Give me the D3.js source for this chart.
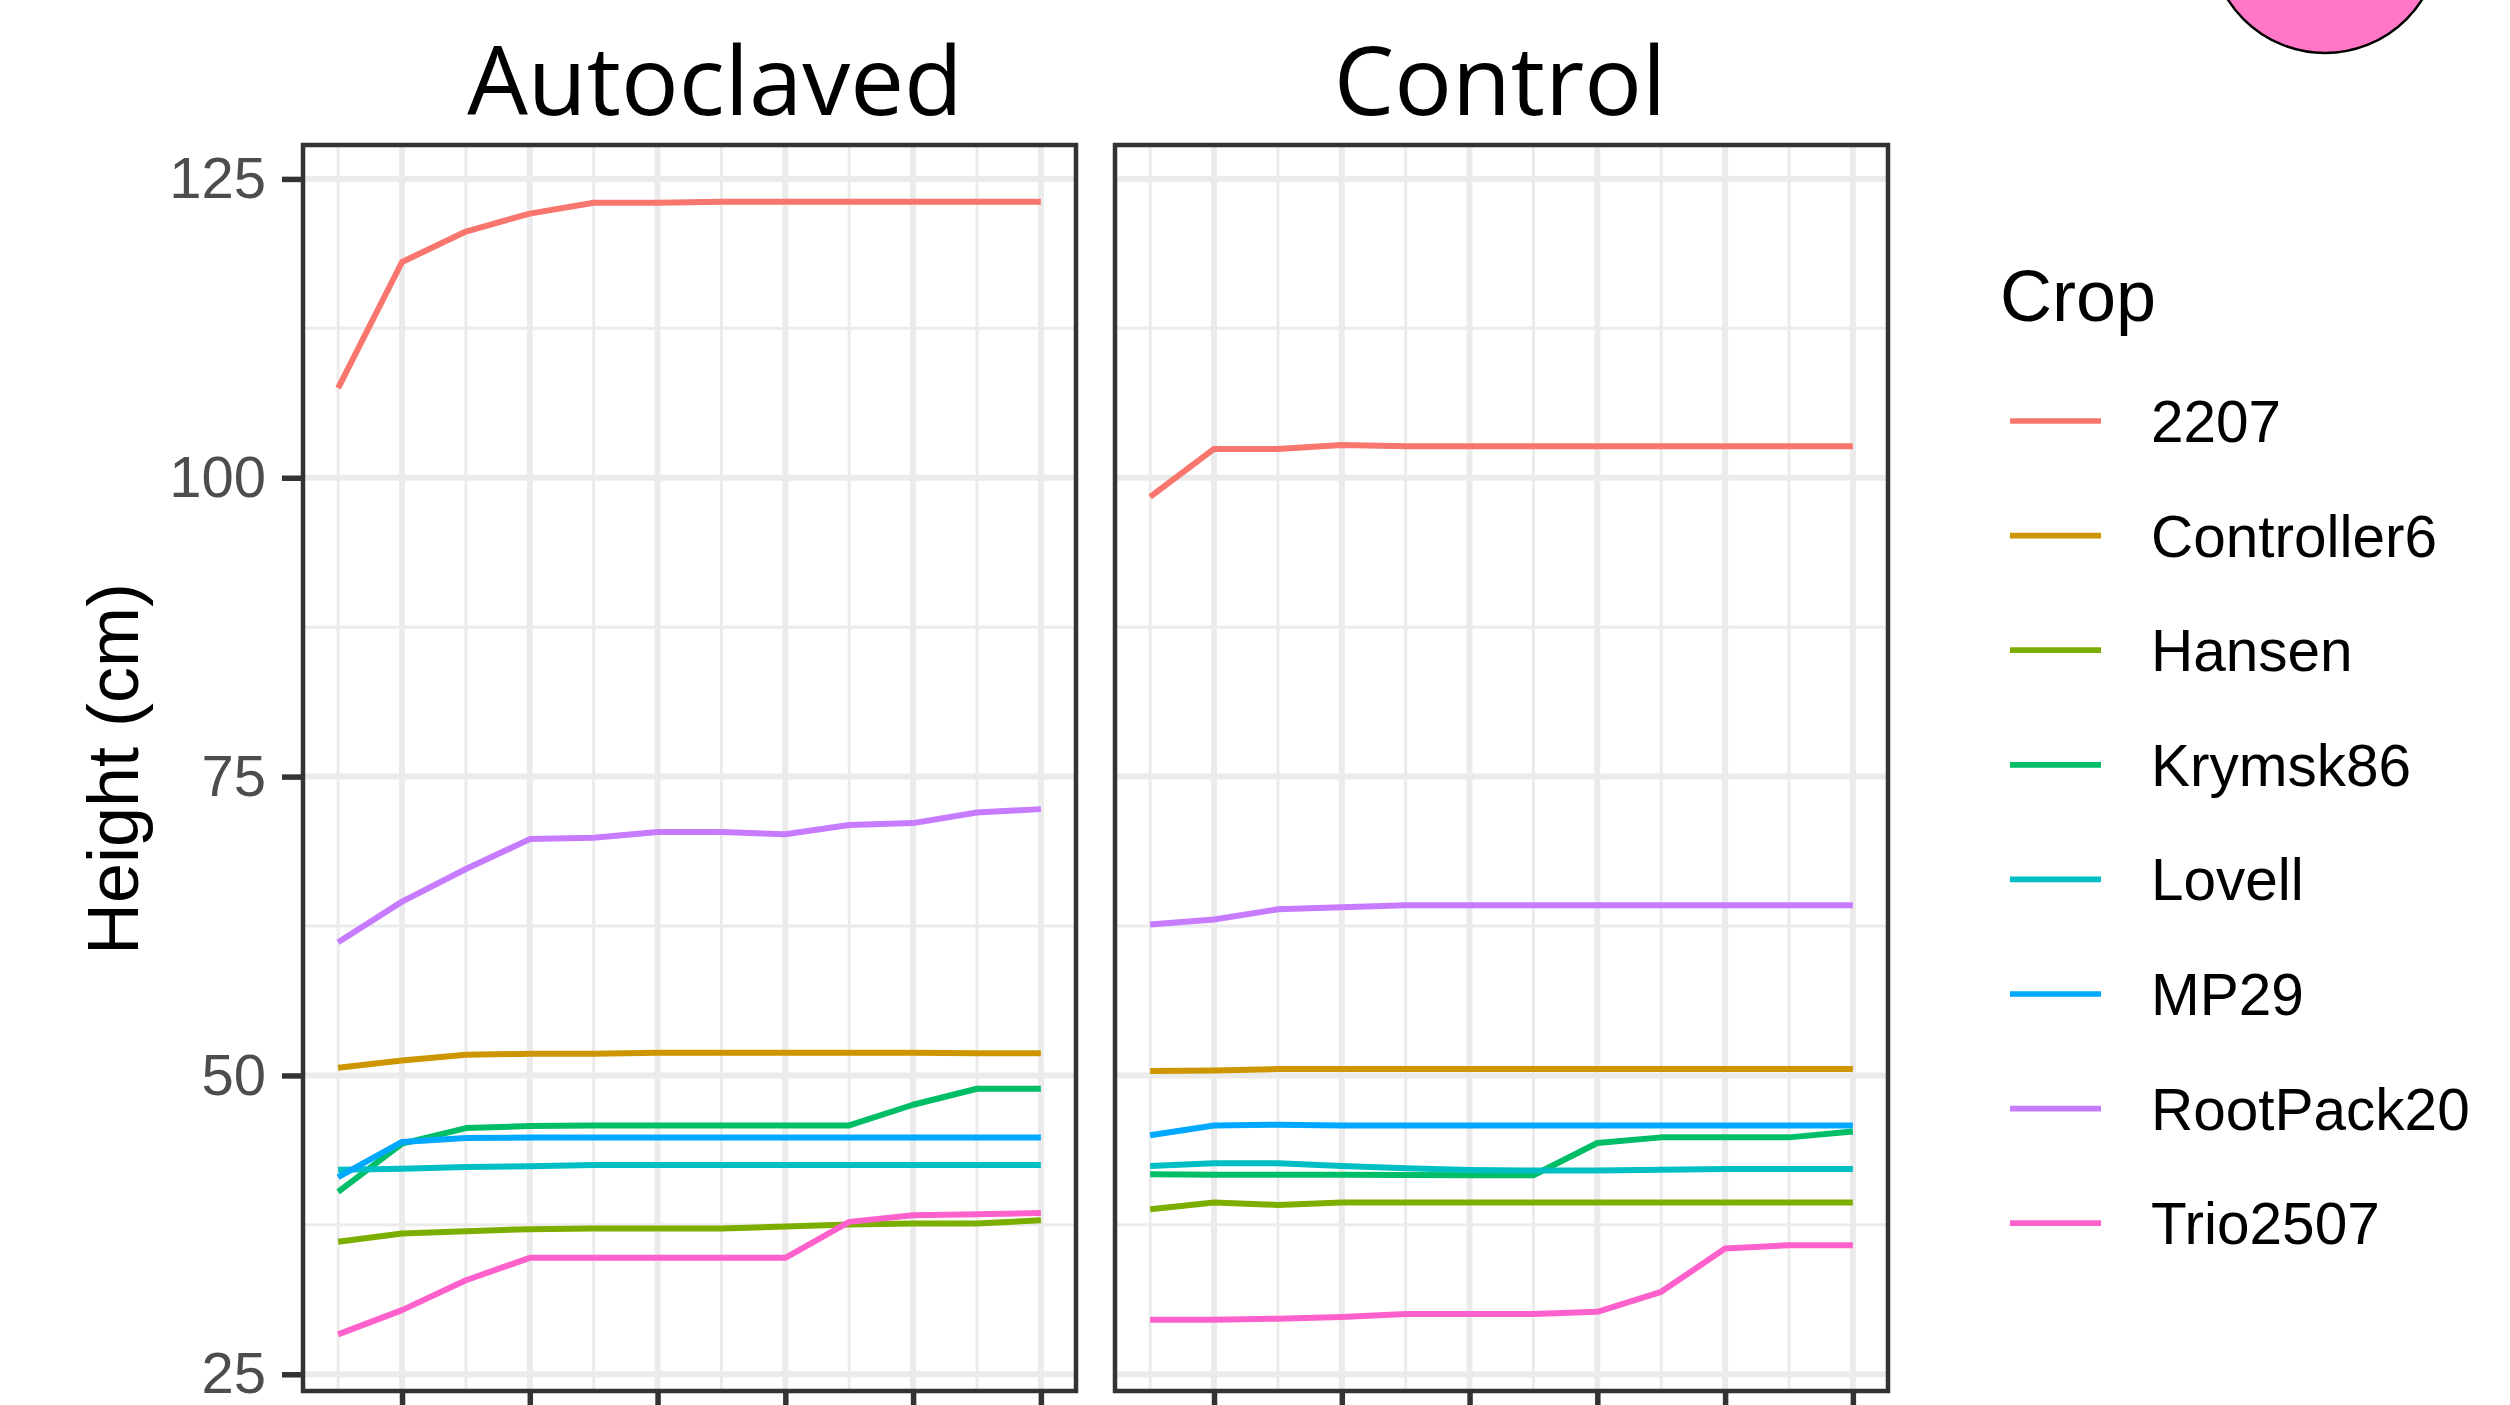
<!DOCTYPE html>
<html>
<head>
<meta charset="utf-8">
<script src="https://cdn.jsdelivr.net/npm/d3@7"></script>
<style>
  html, body { margin: 0; padding: 0; background: #ffffff; }
  svg { display: block; }
</style>
</head>
<body>
<svg id="chart" width="2510" height="1405"></svg>
<script>
// ---------------- DATA ----------------
const weeks = [1, 2, 3, 4, 5, 6, 7, 8, 9, 10, 11, 12];
const xMajorBreaks = [2, 4, 6, 8, 10, 12];
const xMinorBreaks = [1, 3, 5, 7, 9, 11];
const yMajorBreaks = [25, 50, 75, 100, 125];
const yMinorBreaks = [37.5, 62.5, 87.5, 112.5];
const yTickLabels = ["25", "50", "75", "100", "125"];

const panels = ["Autoclaved", "Control"];
const crops = ["2207", "Controller6", "Hansen", "Krymsk86", "Lovell", "MP29", "RootPack20", "Trio2507"];
const cropColors = ["#F8766D", "#CD9600", "#7CAE00", "#00BE67", "#00BFC4", "#00A9FF", "#C77CFF", "#FF61CC"];

// Autoclaved panel
const auto_2207        = [107.5, 118.05, 120.6, 122.1, 123.0, 123.0, 123.1, 123.1, 123.1, 123.1, 123.1, 123.1];
const auto_Controller6 = [50.64, 51.25, 51.73, 51.81, 51.81, 51.9, 51.9, 51.9, 51.9, 51.9, 51.85, 51.85];
const auto_Hansen      = [36.08, 36.78, 36.97, 37.14, 37.19, 37.19, 37.19, 37.36, 37.53, 37.61, 37.61, 37.89];
const auto_Krymsk86    = [40.26, 44.29, 45.6, 45.77, 45.82, 45.82, 45.82, 45.82, 45.82, 47.55, 48.89, 48.89];
const auto_Lovell      = [42.12, 42.2, 42.35, 42.4, 42.51, 42.51, 42.51, 42.51, 42.51, 42.51, 42.51, 42.51];
const auto_MP29        = [41.5, 44.44, 44.77, 44.8, 44.8, 44.8, 44.8, 44.8, 44.8, 44.8, 44.8, 44.8];
const auto_RootPack20  = [61.14, 64.54, 67.27, 69.77, 69.88, 70.36, 70.36, 70.17, 70.95, 71.11, 72.0, 72.28];
const auto_Trio2507    = [28.34, 30.37, 32.87, 34.74, 34.74, 34.74, 34.74, 34.74, 37.75, 38.3, 38.39, 38.5];

// Control panel
const ctrl_2207        = [98.4, 102.41, 102.41, 102.75, 102.64, 102.64, 102.64, 102.64, 102.64, 102.64, 102.64, 102.64];
const ctrl_Controller6 = [50.37, 50.42, 50.53, 50.53, 50.53, 50.53, 50.53, 50.53, 50.53, 50.53, 50.53, 50.53];
const ctrl_Hansen      = [38.81, 39.37, 39.17, 39.37, 39.37, 39.37, 39.37, 39.37, 39.37, 39.37, 39.37, 39.37];
const ctrl_Krymsk86    = [41.73, 41.7, 41.7, 41.7, 41.68, 41.65, 41.65, 44.35, 44.82, 44.82, 44.82, 45.32];
const ctrl_Lovell      = [42.43, 42.65, 42.65, 42.43, 42.23, 42.1, 42.04, 42.04, 42.12, 42.18, 42.18, 42.18];
const ctrl_MP29        = [44.99, 45.82, 45.88, 45.82, 45.82, 45.82, 45.82, 45.82, 45.82, 45.82, 45.82, 45.82];
const ctrl_RootPack20  = [62.62, 63.04, 63.9, 64.07, 64.24, 64.24, 64.24, 64.24, 64.24, 64.24, 64.24, 64.24];
const ctrl_Trio2507    = [29.56, 29.56, 29.65, 29.79, 30.04, 30.04, 30.04, 30.23, 31.9, 35.52, 35.8, 35.8];

const panelSeries = {
  "Autoclaved": [auto_2207, auto_Controller6, auto_Hansen, auto_Krymsk86, auto_Lovell, auto_MP29, auto_RootPack20, auto_Trio2507],
  "Control":    [ctrl_2207, ctrl_Controller6, ctrl_Hansen, ctrl_Krymsk86, ctrl_Lovell, ctrl_MP29, ctrl_RootPack20, ctrl_Trio2507]
};

// ---------------- LAYOUT ----------------
const svg = d3.select("#chart");
const FONT = "'Liberation Sans', Arial, Helvetica, sans-serif";
const panelTop = 145, panelBottom = 1391;
const panelWidth = 773;
const panelLefts = [303, 1115];
const titleX = [715, 1500];
const titleBaseline = 115;

// y scale with ggplot-style 5% expansion
const allVals = [].concat(...panels.map(p => [].concat(...panelSeries[p])));
const yMin = d3.min(allVals), yMax = d3.max(allVals);
const yPad = (yMax - yMin) * 0.05;
const y = d3.scaleLinear().domain([yMin - yPad, yMax + yPad]).range([panelBottom, panelTop]);

const xPad = (d3.max(weeks) - d3.min(weeks)) * 0.05;

panels.forEach((p, pi) => {
  const left = panelLefts[pi];
  const x = d3.scaleLinear()
    .domain([d3.min(weeks) - xPad, d3.max(weeks) + xPad])
    .range([left, left + panelWidth]);

  const g = svg.append("g");

  // minor grid
  g.selectAll(".hmin").data(yMinorBreaks).join("line")
    .attr("x1", left).attr("x2", left + panelWidth)
    .attr("y1", d => y(d)).attr("y2", d => y(d))
    .attr("stroke", "#EBEBEB").attr("stroke-width", 3);
  g.selectAll(".vmin").data(xMinorBreaks).join("line")
    .attr("x1", d => x(d)).attr("x2", d => x(d))
    .attr("y1", panelTop).attr("y2", panelBottom)
    .attr("stroke", "#EBEBEB").attr("stroke-width", 3);
  // major grid
  g.selectAll(".hmaj").data(yMajorBreaks).join("line")
    .attr("x1", left).attr("x2", left + panelWidth)
    .attr("y1", d => y(d)).attr("y2", d => y(d))
    .attr("stroke", "#EBEBEB").attr("stroke-width", 6);
  g.selectAll(".vmaj").data(xMajorBreaks).join("line")
    .attr("x1", d => x(d)).attr("x2", d => x(d))
    .attr("y1", panelTop).attr("y2", panelBottom)
    .attr("stroke", "#EBEBEB").attr("stroke-width", 6);

  // lines
  const line = d3.line().x((d, i) => x(weeks[i])).y(d => y(d));
  panelSeries[p].forEach((vals, ci) => {
    g.append("path")
      .datum(vals)
      .attr("d", line)
      .attr("fill", "none")
      .attr("stroke", cropColors[ci])
      .attr("stroke-width", 6)
      .attr("stroke-linejoin", "round")
      .attr("stroke-linecap", "butt");
  });

  // border
  g.append("rect")
    .attr("x", left).attr("y", panelTop)
    .attr("width", panelWidth).attr("height", panelBottom - panelTop)
    .attr("fill", "none").attr("stroke", "#333333").attr("stroke-width", 4.5);

  // x axis ticks (labels are outside the visible frame)
  const xAxis = d3.axisBottom(x).tickValues(xMajorBreaks).tickSize(19).tickFormat(() => "");
  const xg = svg.append("g").attr("transform", `translate(0,${panelBottom + 2})`).call(xAxis);
  xg.select(".domain").remove();
  xg.selectAll(".tick line").attr("stroke", "#333333").attr("stroke-width", 5.5);

  // y axis on first panel only
  if (pi === 0) {
    const yAxis = d3.axisLeft(y).tickValues(yMajorBreaks).tickSize(19).tickPadding(16)
      .tickFormat((d, i) => yTickLabels[i]);
    const yg = svg.append("g").attr("transform", `translate(${left - 2},0)`).call(yAxis);
    yg.select(".domain").remove();
    yg.selectAll(".tick line").attr("stroke", "#333333").attr("stroke-width", 5.5);
    yg.selectAll(".tick text")
      .attr("fill", "#4D4D4D")
      .style("font-family", FONT)
      .style("font-size", "58px");
  }

  // strip-like titles
  svg.append("text")
    .attr("x", titleX[pi]).attr("y", titleBaseline)
    .attr("text-anchor", "middle")
    .style("font-family", "'Open Sans', 'Noto Sans', sans-serif")
    .style("font-size", "96px")
    .attr("fill", "#000000")
    .text(p);
});

// y axis title
svg.append("text")
  .attr("transform", "translate(138,769) rotate(-90)")
  .attr("text-anchor", "middle")
  .style("font-family", FONT)
  .style("font-size", "72px")
  .attr("fill", "#000000")
  .text("Height (cm)");

// legend
svg.append("text")
  .attr("x", 2000).attr("y", 321)
  .style("font-family", FONT)
  .style("font-size", "72px")
  .attr("fill", "#000000")
  .text("Crop");

const legendY = d3.scalePoint().domain(crops).range([421, 421 + 114.6 * 7]);
const lg = svg.append("g");
lg.selectAll("line").data(crops).join("line")
  .attr("x1", 2010).attr("x2", 2101)
  .attr("y1", d => legendY(d)).attr("y2", d => legendY(d))
  .attr("stroke", (d, i) => cropColors[i])
  .attr("stroke-width", 5.7);
lg.selectAll("text").data(crops).join("text")
  .attr("x", 2151).attr("y", d => legendY(d) + 21)
  .style("font-family", FONT)
  .style("font-size", "58.5px")
  .attr("fill", "#000000")
  .text(d => d);

// decorative pink circle at the top right
svg.append("circle")
  .attr("cx", 2325).attr("cy", -62).attr("r", 115)
  .attr("fill", "#FF77C6")
  .attr("stroke", "#000000")
  .attr("stroke-width", 2.5);
</script>
</body>
</html>
